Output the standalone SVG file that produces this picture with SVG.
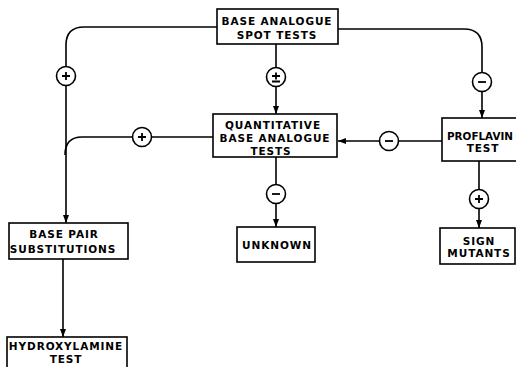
<svg xmlns="http://www.w3.org/2000/svg" width="516" height="367" viewBox="0 0 516 367">
<defs>
<marker id="ah" markerWidth="8" markerHeight="8" refX="8" refY="4" orient="auto" markerUnits="userSpaceOnUse">
<path d="M0,1 L8,4 L0,7 Z" fill="#000"/>
</marker>
<style>
.box{fill:#fff;stroke:#000;stroke-width:1.6}
.t{font-family:"DejaVu Sans",sans-serif;font-size:10.5px;font-weight:bold;letter-spacing:0.9px;text-anchor:middle;fill:#000}
.ln{fill:none;stroke:#000;stroke-width:1.6}
.c{fill:#fff;stroke:#000;stroke-width:1.6}
.s{fill:none;stroke:#000;stroke-width:1.8}
</style>
</defs>
<rect width="516" height="367" fill="#fff"/>
<g id="connectors">
<path class="ln" d="M217,27 H84 Q66,27 66,45 V223" marker-end="url(#ah)"/>
<path class="ln" d="M213,137 H82 Q65,137 65,155"/>
<path class="ln" d="M276,44 V114" marker-end="url(#ah)"/>
<path class="ln" d="M338,29 H464 Q482,29 482,47 V118" marker-end="url(#ah)"/>
<path class="ln" d="M442,141 H338" marker-end="url(#ah)"/>
<path class="ln" d="M276,157 V227" marker-end="url(#ah)"/>
<path class="ln" d="M479,161 V228" marker-end="url(#ah)"/>
<path class="ln" d="M63,259 V337" marker-end="url(#ah)"/>
<g id="s1"><circle class="c" cx="66" cy="76" r="9.5"/><path class="s" d="M62,76 H70 M66,72 V80"/></g>
<g id="s2"><circle class="c" cx="142" cy="137" r="9.5"/><path class="s" d="M138,137 H146 M142,133 V141"/></g>
<g id="s3"><circle class="c" cx="276" cy="77" r="9.5"/><path class="s" d="M272,76 H280 M276,72.5 V79.5 M272,81.5 H280"/></g>
<g id="s4"><circle class="c" cx="482" cy="82" r="9.5"/><path class="s" d="M478,82 H486"/></g>
<g id="s5"><circle class="c" cx="389" cy="141" r="9.5"/><path class="s" d="M385,141 H393"/></g>
<g id="s6"><circle class="c" cx="276" cy="194" r="9.5"/><path class="s" d="M272,194 H280"/></g>
<g id="s7"><circle class="c" cx="479" cy="199" r="9.5"/><path class="s" d="M475,199 H483 M479,195 V203"/></g>
</g>
<g id="spot">
<rect class="box" x="217" y="9" width="121" height="35"/>
<text class="t" x="277" y="25">BASE ANALOGUE</text>
<text class="t" x="277" y="38.5">SPOT TESTS</text>
</g>
<g id="quant">
<rect class="box" x="213" y="114" width="124" height="43"/>
<text class="t" x="273" y="129">QUANTITATIVE</text>
<text class="t" x="275" y="142">BASE ANALOGUE</text>
<text class="t" x="271" y="155">TESTS</text>
</g>
<g id="proflavin">
<rect class="box" x="442" y="118" width="84" height="43"/>
<text class="t" x="447" y="140" style="text-anchor:start;letter-spacing:0" textLength="66" lengthAdjust="spacingAndGlyphs">PROFLAVIN</text>
<text class="t" x="483" y="152">TEST</text>
</g>
<g id="basepair">
<rect class="box" x="9" y="223" width="119" height="36"/>
<text class="t" x="64" y="238">BASE PAIR</text>
<text class="t" x="63" y="253">SUBSTITUTIONS</text>
</g>
<g id="unknown">
<rect class="box" x="237" y="227" width="78" height="35"/>
<text class="t" x="277" y="249">UNKNOWN</text>
</g>
<g id="sign">
<rect class="box" x="440" y="228" width="75" height="36"/>
<text class="t" x="479" y="245">SIGN</text>
<text class="t" x="479" y="257">MUTANTS</text>
</g>
<g id="hydroxylamine">
<rect class="box" x="7" y="337" width="120" height="40"/>
<text class="t" x="66" y="350">HYDROXYLAMINE</text>
<text class="t" x="66" y="363">TEST</text>
</g>
</svg>
